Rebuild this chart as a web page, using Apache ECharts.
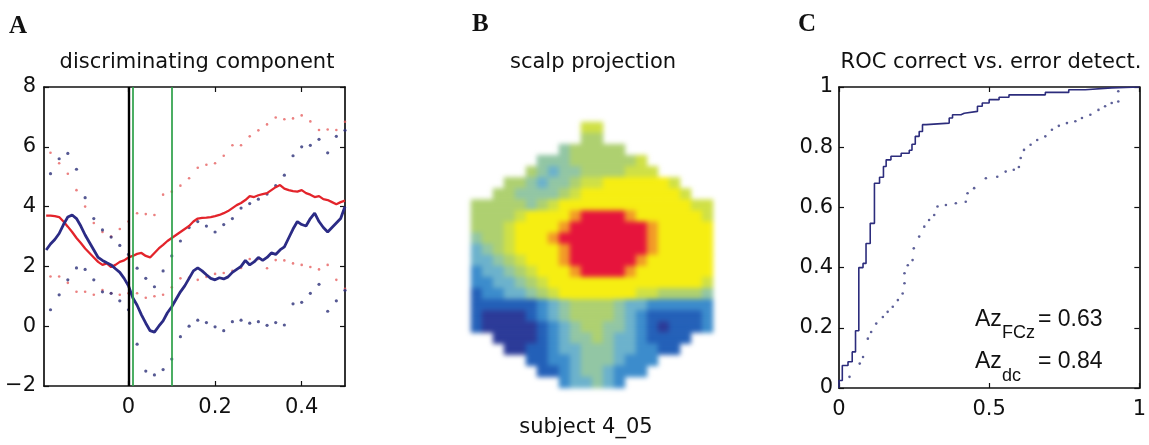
<!DOCTYPE html>
<html><head><meta charset="utf-8">
<script src="https://cdn.jsdelivr.net/npm/echarts@6/dist/echarts.min.js"></script>
<style>
html,body{margin:0;padding:0;background:#fff}
#wrap{position:relative;width:1149px;height:445px}
#c{position:absolute;left:0;top:0;width:1149px;height:445px}
#h{position:absolute;left:456px;top:107px;width:272px;height:296px;filter:blur(2.5px)}
</style>
</head><body><div id="wrap"><div id="c"></div><div id="h"></div></div>
<script>
// ---------- Panel A: discriminating component ----------
const tSolid = [-0.19,-0.18,-0.17,-0.16,-0.15,-0.14,-0.13,-0.12,-0.11,-0.10,
  -0.09,-0.08,-0.07,-0.06,-0.05,-0.04,-0.03,-0.02,-0.01,0.00,
  0.01,0.02,0.03,0.04,0.05,0.06,0.07,0.08,0.09,0.10,
  0.11,0.12,0.13,0.14,0.15,0.16,0.17,0.18,0.19,0.20,
  0.21,0.22,0.23,0.24,0.25,0.26,0.27,0.28,0.29,0.30,
  0.31,0.32,0.33,0.34,0.35,0.36,0.37,0.38,0.39,0.40,
  0.41,0.42,0.43,0.44,0.45,0.46,0.47,0.48,0.49,0.50];
const redMean = [3.7,3.7,3.68,3.65,3.5,3.33,3.15,2.95,2.78,2.6,
  2.45,2.3,2.15,2.05,2.1,1.98,2.05,2.15,2.2,2.3,
  2.35,2.42,2.45,2.35,2.3,2.45,2.6,2.72,2.85,2.95,
  3.05,3.15,3.25,3.35,3.5,3.6,3.62,3.63,3.65,3.68,
  3.72,3.78,3.85,3.95,4.05,4.12,4.22,4.35,4.32,4.38,
  4.42,4.45,4.55,4.65,4.72,4.6,4.55,4.52,4.5,4.55,
  4.45,4.4,4.32,4.35,4.25,4.22,4.15,4.08,4.15,4.2];
const blueMean = [2.55,2.75,2.9,3.1,3.4,3.65,3.72,3.6,3.35,3.05,
  2.8,2.55,2.3,2.2,2.12,2.05,1.92,1.8,1.6,1.35,
  0.95,0.7,0.38,0.1,-0.15,-0.2,0.0,0.18,0.45,0.65,
  0.9,1.15,1.35,1.6,1.85,1.95,1.85,1.72,1.6,1.55,
  1.62,1.58,1.65,1.8,1.9,2.0,2.2,2.05,2.15,2.3,
  2.2,2.3,2.45,2.4,2.55,2.65,2.95,3.25,3.5,3.4,
  3.35,3.6,3.78,3.5,3.3,3.15,3.3,3.45,3.6,4.0];
const tDots = [-0.18,-0.16,-0.14,-0.12,-0.10,-0.08,-0.06,-0.04,-0.02,0.00,
  0.02,0.04,0.06,0.08,0.10,0.12,0.14,0.16,0.18,0.20,
  0.22,0.24,0.26,0.28,0.30,0.32,0.34,0.36,0.38,0.40,
  0.42,0.44,0.46,0.48,0.50];
const redUpper = [5.8,5.45,5.1,4.55,4.0,3.45,3.15,3.0,3.25,3.5,
  3.78,3.75,3.72,4.4,4.5,4.7,4.95,5.3,5.4,5.45,
  5.7,6.05,6.05,6.35,6.55,6.75,6.98,6.92,6.95,7.05,
  6.85,6.56,6.58,6.56,6.84];
const redLower = [1.66,1.66,1.45,1.15,1.15,1.05,1.21,1.1,1.05,1.1,
  1.1,0.95,1.0,1.05,1.3,1.6,1.62,1.55,1.65,1.75,
  1.78,1.85,1.95,2.25,2.25,1.94,2.21,2.2,2.1,2.05,
  1.98,1.9,2.05,1.55,1.25];
const blueUpper = [5.1,5.6,5.78,5.25,4.3,3.6,3.22,2.98,2.7,2.4,
  1.94,1.6,1.32,1.85,2.35,2.85,3.3,3.5,3.35,3.15,
  3.4,3.6,3.95,4.1,4.25,4.42,4.7,5.05,5.7,6.0,
  6.05,6.25,5.8,6.35,6.55];
const blueLower = [0.55,1.05,1.55,1.95,1.9,1.55,1.15,1.1,0.85,0.55,
  -0.6,-1.5,-1.63,-1.45,-1.1,-0.35,0.0,0.2,0.12,-0.02,
  -0.15,0.15,0.2,0.1,0.15,0.03,0.12,0.04,0.75,0.8,
  1.1,1.4,0.5,0.85,1.2];
const onsetMarks = [0];
const windowMarks = [0.005, 0.1];
const xTicksA = [0, 0.2, 0.4];

// ---------- Panel B: scalp projection (levels 0..9, '.' = outside head) ----------
const scalpRows = [
  "..........66..........",
  "..........55..........",
  "........455555........",
  "......4445555556......",
  ".....543445555666.....",
  "...5543445667777776...",
  "..554444567777777776..",
  "5555545677777777777766",
  "5555677778999987777776",
  "5556777789999999877777",
  "4556777899999999877777",
  "3456777789999999877777",
  "3345677789999998777777",
  "2334567778999987777777",
  "2233456777777777777776",
  "1223345677777776655554",
  "1111112345555433222222",
  "1000012345555432111112",
  "1000001234554432101112",
  "..000012344543321111..",
  "...0011233444332211...",
  ".....112234443222.....",
  "......1123443222......",
  "........233432........"
];
const scalpPalette = ['#2b3a98','#2360b8','#3c8ccc','#6cb2cc','#92c6a4','#aed070','#cfe046','#f6ee12','#f29a28','#e6143c'];

// ---------- Panel C: ROC ----------
const rocX = [0,0,0.011,0.03,0.044,0.055,0.066,0.08,0.09,0.104,0.118,0.135,0.148,0.157,0.173,0.207,0.234,0.243,0.254,0.267,0.278,0.29,0.367,0.378,0.406,0.417,0.461,0.477,0.5,0.533,0.566,0.687,0.765,0.82,0.908,1.0];
const rocY = [0,0.025,0.075,0.087,0.12,0.19,0.4,0.414,0.48,0.547,0.68,0.70,0.736,0.758,0.77,0.78,0.79,0.81,0.836,0.852,0.875,0.88,0.897,0.908,0.913,0.919,0.936,0.947,0.958,0.966,0.974,0.982,0.991,0.997,1.0,1.0];
const rocDotX = [0.035,0.069,0.08,0.096,0.107,0.124,0.146,0.162,0.179,0.196,0.212,0.218,0.218,0.229,0.245,0.249,0.267,0.284,0.3,0.317,0.328,0.356,0.389,0.422,0.428,0.45,0.489,0.527,0.555,0.582,0.599,0.605,0.616,0.638,0.66,0.687,0.709,0.732,0.759,0.787,0.809,0.837,0.864,0.886,0.908,0.93,0.93];
const rocDotY = [0.037,0.081,0.103,0.164,0.186,0.214,0.236,0.253,0.27,0.292,0.314,0.348,0.381,0.408,0.425,0.464,0.503,0.536,0.558,0.575,0.603,0.608,0.614,0.619,0.647,0.664,0.697,0.702,0.719,0.725,0.734,0.764,0.791,0.808,0.824,0.836,0.858,0.871,0.88,0.886,0.897,0.908,0.924,0.936,0.947,0.952,0.986];

// ---------- build ----------
const FONT = 'DejaVu Sans';
const INK = '#111';
const lab = {fontFamily: FONT, fontSize: 21, color: INK};
const pairs = (xs, ys) => xs.map((x, i) => [x, ys[i]]);
const minusFmt = v => String(v).replace('-', '\u2212');
const heatData = [];
scalpRows.forEach((row, r) => {
  for (let c = 0; c < row.length; c++) {
    const ch = row[c];
    if (ch !== '.') heatData.push([c, r, Number(ch)]);
  }
});
const nCols = scalpRows[0].length, nRows = scalpRows.length;

const frame = {show: true, onZero: false, lineStyle: {color: INK, width: 1.7}};
const tick = extra => Object.assign({show: true, inside: true, length: 5, lineStyle: {color: INK, width: 1.2}}, extra || {});
const txt = (x, y, text, size, extra) => ({type: 'text', x, y, style: Object.assign({text, fontFamily: FONT, fontSize: size, fill: INK, verticalAlign: 'middle', textVerticalAlign: 'middle'}, extra || {})});
const center = {align: 'center', textAlign: 'center'};
const letter = {fontFamily: 'Liberation Serif', fontWeight: 'bold'};
const azFont = {fontFamily: 'Liberation Sans'};

const chart = echarts.init(document.getElementById('c'));
chart.setOption({
  animation: false,
  grid: [
    {left: 44, top: 87, width: 301, height: 299},
    {left: 839, top: 87, width: 302, height: 301}
  ],
  xAxis: [
    {gridIndex: 0, type: 'value', min: -0.195, max: 0.5, position: 'bottom', axisLine: frame,
     axisTick: tick({customValues: xTicksA}), axisLabel: Object.assign({customValues: xTicksA, margin: 11}, lab), splitLine: {show: false}},
    {gridIndex: 0, type: 'value', min: -0.195, max: 0.5, position: 'top', axisLine: frame,
     axisTick: tick({customValues: xTicksA}), axisLabel: {show: false}, splitLine: {show: false}},
    {gridIndex: 1, type: 'value', min: 0, max: 1, interval: 0.5, position: 'bottom', axisLine: frame,
     axisTick: tick(), axisLabel: Object.assign({margin: 11, showMinLabel: true, showMaxLabel: true}, lab), splitLine: {show: false}},
    {gridIndex: 1, type: 'value', min: 0, max: 1, interval: 0.5, position: 'top', axisLine: frame,
     axisTick: tick(), axisLabel: {show: false}, splitLine: {show: false}}
  ],
  yAxis: [
    {gridIndex: 0, type: 'value', min: -2, max: 8, interval: 2, position: 'left', axisLine: frame,
     axisTick: tick(), axisLabel: Object.assign({margin: 8, formatter: minusFmt, showMinLabel: true, showMaxLabel: true}, lab), splitLine: {show: false}},
    {gridIndex: 0, type: 'value', min: -2, max: 8, interval: 2, position: 'right', axisLine: frame,
     axisTick: tick(), axisLabel: {show: false}, splitLine: {show: false}},
    {gridIndex: 1, type: 'value', min: 0, max: 1, interval: 0.2, position: 'left', axisLine: frame,
     axisTick: tick(), axisLabel: Object.assign({margin: 6, showMinLabel: true, showMaxLabel: true}, lab), splitLine: {show: false}},
    {gridIndex: 1, type: 'value', min: 0, max: 1, interval: 0.2, position: 'right', axisLine: frame,
     axisTick: tick(), axisLabel: {show: false}, splitLine: {show: false}}
  ],
  series: [
    {type: 'scatter', xAxisIndex: 0, yAxisIndex: 0, data: pairs(tDots, redUpper), symbolSize: 2.6, itemStyle: {color: '#e66060'}, silent: true},
    {type: 'scatter', xAxisIndex: 0, yAxisIndex: 0, data: pairs(tDots, redLower), symbolSize: 2.6, itemStyle: {color: '#e66060'}, silent: true},
    {type: 'scatter', xAxisIndex: 0, yAxisIndex: 0, data: pairs(tDots, blueUpper), symbolSize: 3.2, itemStyle: {color: '#2c2f78'}, silent: true},
    {type: 'scatter', xAxisIndex: 0, yAxisIndex: 0, data: pairs(tDots, blueLower), symbolSize: 3.2, itemStyle: {color: '#2c2f78'}, silent: true},
    {type: 'line', xAxisIndex: 0, yAxisIndex: 0, data: pairs(tSolid, redMean), showSymbol: false, lineStyle: {color: '#e3242b', width: 2.3}, silent: true},
    {type: 'line', xAxisIndex: 0, yAxisIndex: 0, data: pairs(tSolid, blueMean), showSymbol: false, lineStyle: {color: '#2b2b85', width: 2.8}, silent: true,
     markLine: {silent: true, symbol: ['none', 'none'], label: {show: false}, animation: false,
       data: onsetMarks.map(v => ({xAxis: v, lineStyle: {color: '#000', width: 2.4, type: 'solid'}}))
         .concat(windowMarks.map(v => ({xAxis: v, lineStyle: {color: '#2ca048', width: 1.7, type: 'solid'}})))}},
    {type: 'line', xAxisIndex: 2, yAxisIndex: 2, step: 'end', data: pairs(rocX, rocY), showSymbol: false, lineStyle: {color: '#2c2c7c', width: 1.6}, silent: true},
    {type: 'scatter', xAxisIndex: 2, yAxisIndex: 2, data: pairs(rocDotX, rocDotY), symbolSize: 2.6, itemStyle: {color: '#34387e'}, silent: true}
  ],
  graphic: [
    txt(9, 27, 'A', 25, letter),
    txt(472, 25, 'B', 25, letter),
    txt(798, 25, 'C', 25, letter),
    txt(197, 63, 'discriminating component', 21, center),
    txt(593, 63, 'scalp projection', 21, center),
    txt(991, 63, 'ROC correct vs. error detect.', 21, center),
    txt(586, 428, 'subject 4_05', 21, center),
    txt(975, 320, 'Az', 23, azFont),
    txt(1002, 333, 'FCz', 18, azFont),
    txt(1038, 320, '= 0.63', 23, azFont),
    txt(975, 362, 'Az', 23, azFont),
    txt(1002, 376, 'dc', 18, azFont),
    txt(1038, 362, '= 0.84', 23, azFont)
  ]
});

// Panel B: heatmap in its own layer so the scalp map can be softened
const heat = echarts.init(document.getElementById('h'));
heat.setOption({
  animation: false,
  grid: {left: 15, top: 15, width: 242, height: 266},
  xAxis: {type: 'category', data: Array.from({length: nCols}, (_, i) => i), show: false},
  yAxis: {type: 'category', inverse: true, data: Array.from({length: nRows}, (_, i) => i), show: false},
  visualMap: {type: 'continuous', min: 0, max: 9, show: false, inRange: {color: scalpPalette}},
  series: [{type: 'heatmap', data: heatData, itemStyle: {borderWidth: 0}, silent: true}]
});
</script></body></html>
